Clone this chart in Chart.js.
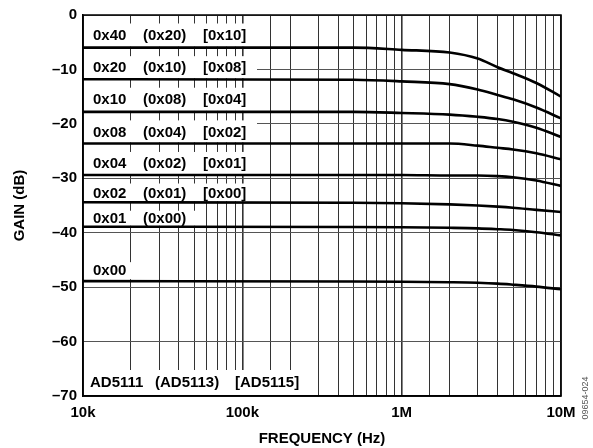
<!DOCTYPE html>
<html>
<head>
<meta charset="utf-8">
<script src="https://cdn.jsdelivr.net/npm/chart.js@4"></script>
<style>
  html, body { margin: 0; padding: 0; background: #fff; }
  #wrap { width: 593px; height: 448px; }
</style>
</head>
<body>
<div id="wrap"><canvas id="myChart" width="593" height="448"></canvas></div>
<script>
// frequency points (Hz) shared by all curves
const freqs = [1e4, 5e5, 1e6, 2e6, 3e6, 4e6, 5e6, 7e6, 1e7];

// gain (dB) per code
const gain0x40 = [-6.0, -6.0, -6.4, -6.9, -8.0, -9.6, -10.7, -12.5, -15.0];
const gain0x20 = [-11.8, -11.9, -12.2, -12.7, -13.7, -14.7, -15.5, -17.0, -19.0];
const gain0x10 = [-17.8, -17.8, -18.0, -18.3, -18.7, -19.1, -19.6, -20.7, -22.4];
const gain0x08 = [-23.6, -23.6, -23.6, -23.6, -24.0, -24.4, -24.7, -25.4, -26.5];
const gain0x04 = [-29.4, -29.4, -29.4, -29.5, -29.5, -29.6, -29.8, -30.4, -31.4];
const gain0x02 = [-34.4, -34.5, -34.6, -34.8, -35.0, -35.2, -35.4, -35.8, -36.2];
const gain0x01 = [-38.9, -38.95, -39.0, -39.1, -39.2, -39.35, -39.5, -39.9, -40.5];
const gain0x00 = [-48.9, -48.95, -49.0, -49.1, -49.2, -49.35, -49.55, -49.9, -50.4];

const curves = [gain0x40, gain0x20, gain0x10, gain0x08, gain0x04, gain0x02, gain0x01, gain0x00];

// code labels for each band (AD5111, (AD5113), [AD5115])
const rowLabels = [
    ['0x40', '(0x20)', '[0x10]'],
    ['0x20', '(0x10)', '[0x08]'],
    ['0x10', '(0x08)', '[0x04]'],
    ['0x08', '(0x04)', '[0x02]'],
    ['0x04', '(0x02)', '[0x01]'],
    ['0x02', '(0x01)', '[0x00]'],
    ['0x01', '(0x00)'],
    ['0x00']
];
const partLabels = ['AD5111', '(AD5113)', '[AD5115]'];

const yTicks = [0, -10, -20, -30, -40, -50, -60, -70];
const FONT = 'bold 15px "Liberation Sans", Arial, sans-serif';

const fmtFreq = v => {
    if (v >= 1e6) return (v / 1e6) + 'M';
    return (v / 1e3) + 'k';
};
const isDecade = v => Math.abs(Math.log10(v) - Math.round(Math.log10(v))) < 1e-9;

// white label boxes over the grid, under the curves
const labelBoxes = {
    id: 'labelBoxes',
    beforeDatasetsDraw(chart) {
        const { ctx, chartArea, scales } = chart;
        const y = scales.y;
        const L = chartArea.left;
        const offsets = [10, 60, 120];
        ctx.save();
        ctx.font = FONT;
        ctx.textBaseline = 'middle';
        ctx.textAlign = 'left';
        rowLabels.forEach((row, i) => {
            const curY = y.getPixelForValue(curves[i][0]);
            const prevY = i === 0 ? chartArea.top : y.getPixelForValue(curves[i - 1][0]);
            let top, bottom, right, midY;
            if (i < 7) {
                top = prevY + 8.5;
                bottom = curY - 1;
                right = i < 6 ? L + 174 : L + 116;
                midY = (top + bottom) / 2 + 1;
            } else {
                top = curY - 19;
                bottom = curY - 2;
                right = L + 48;
                midY = curY - 10;
            }
            ctx.fillStyle = '#fff';
            ctx.fillRect(L + 1, top, right - L - 1, bottom - top);
            ctx.fillStyle = '#000';
            row.forEach((t, j) => ctx.fillText(t, L + offsets[j], midY));
        });
        // device names along the bottom
        const B = chartArea.bottom;
        ctx.fillStyle = '#fff';
        ctx.fillRect(L + 1, B - 26, 225, 25);
        ctx.fillStyle = '#000';
        const pOff = [7, 72, 152];
        partLabels.forEach((t, j) => ctx.fillText(t, L + pOff[j], B - 13));
        ctx.restore();
    },
    afterDatasetsDraw(chart) {
        const { ctx, chartArea } = chart;
        ctx.save();
        ctx.strokeStyle = '#000';
        ctx.lineWidth = 1.5;
        ctx.strokeRect(chartArea.left, chartArea.top, chartArea.right - chartArea.left, chartArea.bottom - chartArea.top);
        // figure number at the right edge
        ctx.translate(586, 398);
        ctx.rotate(-Math.PI / 2);
        ctx.font = '9px "Liberation Sans", Arial, sans-serif';
        ctx.fillStyle = '#555';
        ctx.textAlign = 'center';
        ctx.textBaseline = 'middle';
        ctx.fillText('09654-024', 0, 0);
        ctx.restore();
    }
};

const datasets = curves.map((g, i) => ({
    label: rowLabels[i][0],
    data: freqs.map((f, k) => ({ x: f, y: g[k] })),
    borderColor: '#000',
    borderWidth: 2.6,
    pointRadius: 0,
    cubicInterpolationMode: 'monotone',
    fill: false
}));

const ctx = document.getElementById('myChart').getContext('2d');
const myChart = new Chart(ctx, {
    type: 'line',
    data: { datasets: datasets },
    plugins: [labelBoxes],
    options: {
        responsive: false,
        animation: false,
        devicePixelRatio: 1,
        layout: { padding: { top: 15, right: 32, left: 0, bottom: 0 } },
        plugins: {
            legend: { display: false },
            tooltip: { enabled: false }
        },
        scales: {
            x: {
                type: 'logarithmic',
                min: 1e4,
                max: 1e7,
                afterFit: s => { s.height = 52; },
                grid: {
                    drawTicks: false,
                    color: '#333',
                    lineWidth: c => (c.tick && isDecade(c.tick.value)) ? 1.6 : 1
                },
                border: { color: '#000', width: 1.5 },
                ticks: {
                    autoSkip: false,
                    maxRotation: 0,
                    padding: 8,
                    color: '#000',
                    font: { family: '"Liberation Sans", Arial, sans-serif', size: 15, weight: 'bold' },
                    callback: v => isDecade(v) ? fmtFreq(v) : ''
                },
                title: {
                    display: true,
                    text: 'FREQUENCY (Hz)',
                    color: '#000',
                    padding: { top: 0, bottom: 0 },
                    font: { family: '"Liberation Sans", Arial, sans-serif', size: 15, weight: 'bold' }
                }
            },
            y: {
                min: -70,
                max: 0,
                afterFit: s => { s.width = 83; },
                afterBuildTicks: s => { s.ticks = yTicks.map(v => ({ value: v })); },
                grid: { drawTicks: false, color: '#555', lineWidth: 1 },
                border: { color: '#000', width: 1.5 },
                ticks: {
                    padding: 6,
                    color: '#000',
                    font: { family: '"Liberation Sans", Arial, sans-serif', size: 15, weight: 'bold' },
                    callback: v => v === 0 ? '0' : '\u2013' + Math.abs(v)
                },
                title: {
                    display: true,
                    text: 'GAIN (dB)',
                    color: '#000',
                    padding: { top: 11, bottom: 0 },
                    font: { family: '"Liberation Sans", Arial, sans-serif', size: 15, weight: 'bold' }
                }
            }
        }
    }
});
</script>
</body>
</html>
